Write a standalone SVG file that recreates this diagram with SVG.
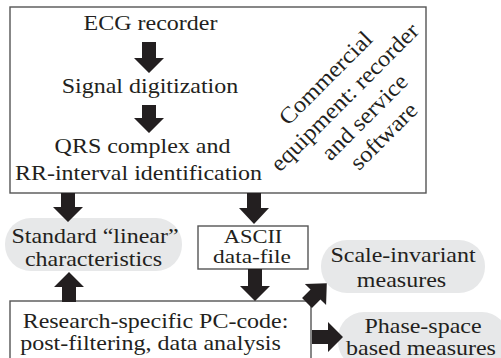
<svg xmlns="http://www.w3.org/2000/svg" width="501" height="358" viewBox="0 0 501 358">
<style>
.box{fill:#fff;stroke:#555;stroke-width:1.4}
.pill{fill:#e7e8e9;stroke:none}
.arr{fill:#231f20;stroke:none}
text{font-family:"Liberation Serif","Times New Roman",serif;font-size:20px;fill:#231f20;text-anchor:middle}
.rot text{font-size:23px}
.sm{font-size:18px}
</style>
<rect width="501" height="358" fill="#fff"/>
<g id="commercial">
<rect class="box" x="10" y="7" width="416" height="186"/>
<g class="rot" transform="translate(355,107.5) rotate(-45) scale(1.07,1)">
<text x="0" y="-34">Commercial</text>
<text x="0" y="-7">equipment: recorder</text>
<text x="0" y="21">and service</text>
<text x="0" y="48">software</text>
</g>
</g>
<g id="ecg"><text transform="translate(150.5,30) scale(1.2,1)">ECG recorder</text></g>
<g id="digitization"><text transform="translate(150,93) scale(1.2,1)">Signal digitization</text></g>
<g id="qrs">
<text transform="translate(142.5,153) scale(1.2,1)">QRS complex and</text>
<text transform="translate(138.5,180) scale(1.2,1)">RR-interval identification</text>
</g>
<g id="standard">
<rect class="pill" x="5" y="218" width="177" height="53" rx="26"/>
<text transform="translate(95,243) scale(1.2,1)">Standard “linear”</text>
<text transform="translate(93.5,266) scale(1.2,1)">characteristics</text>
</g>
<g id="ascii">
<rect class="box" x="198" y="226" width="110" height="43"/>
<text class="sm" transform="translate(253,243) scale(1.25,1)">ASCII</text>
<text class="sm" transform="translate(252,263) scale(1.3,1)">data-file</text>
</g>
<g id="scale">
<rect class="pill" x="321" y="240" width="164" height="53" rx="26"/>
<text transform="translate(403,262) scale(1.2,1)">Scale-invariant</text>
<text transform="translate(401.5,287) scale(1.2,1)">measures</text>
</g>
<g id="phase">
<rect class="pill" x="338" y="312" width="170" height="56" rx="26"/>
<text transform="translate(423,333) scale(1.2,1)">Phase-space</text>
<text transform="translate(421,355) scale(1.2,1)">based measures</text>
</g>
<g id="research">
<rect class="box" x="10" y="301" width="301" height="70"/>
<text transform="translate(155.5,328) scale(1.2,1)">Research-specific PC-code:</text>
<text transform="translate(150.5,350) scale(1.2,1)">post-filtering, data analysis</text>
</g>
<g id="connectors">
<path class="arr" d="M142 42H156V58H164L149 73L134 58H142Z"/>
<path class="arr" d="M142 105H156V118H164L149 133L134 118H142Z"/>
<path class="arr" d="M61 193H75V207H83L68 222L53 207H61Z"/>
<path class="arr" d="M62 302H76V287H84L69 272L54 287H62Z"/>
<path class="arr" d="M247 193H261V208H269L254 224L239 208H247Z"/>
<path class="arr" d="M248 269H262V286H270L255 301L240 286H248Z"/>
<path class="arr" d="M312 330H328V322L343 337L328 352V344H312Z"/>
<path class="arr" transform="translate(307,303) rotate(-45)" d="M0 -7H12V-15L28 0L12 15V7H0Z"/>
</g>
</svg>
